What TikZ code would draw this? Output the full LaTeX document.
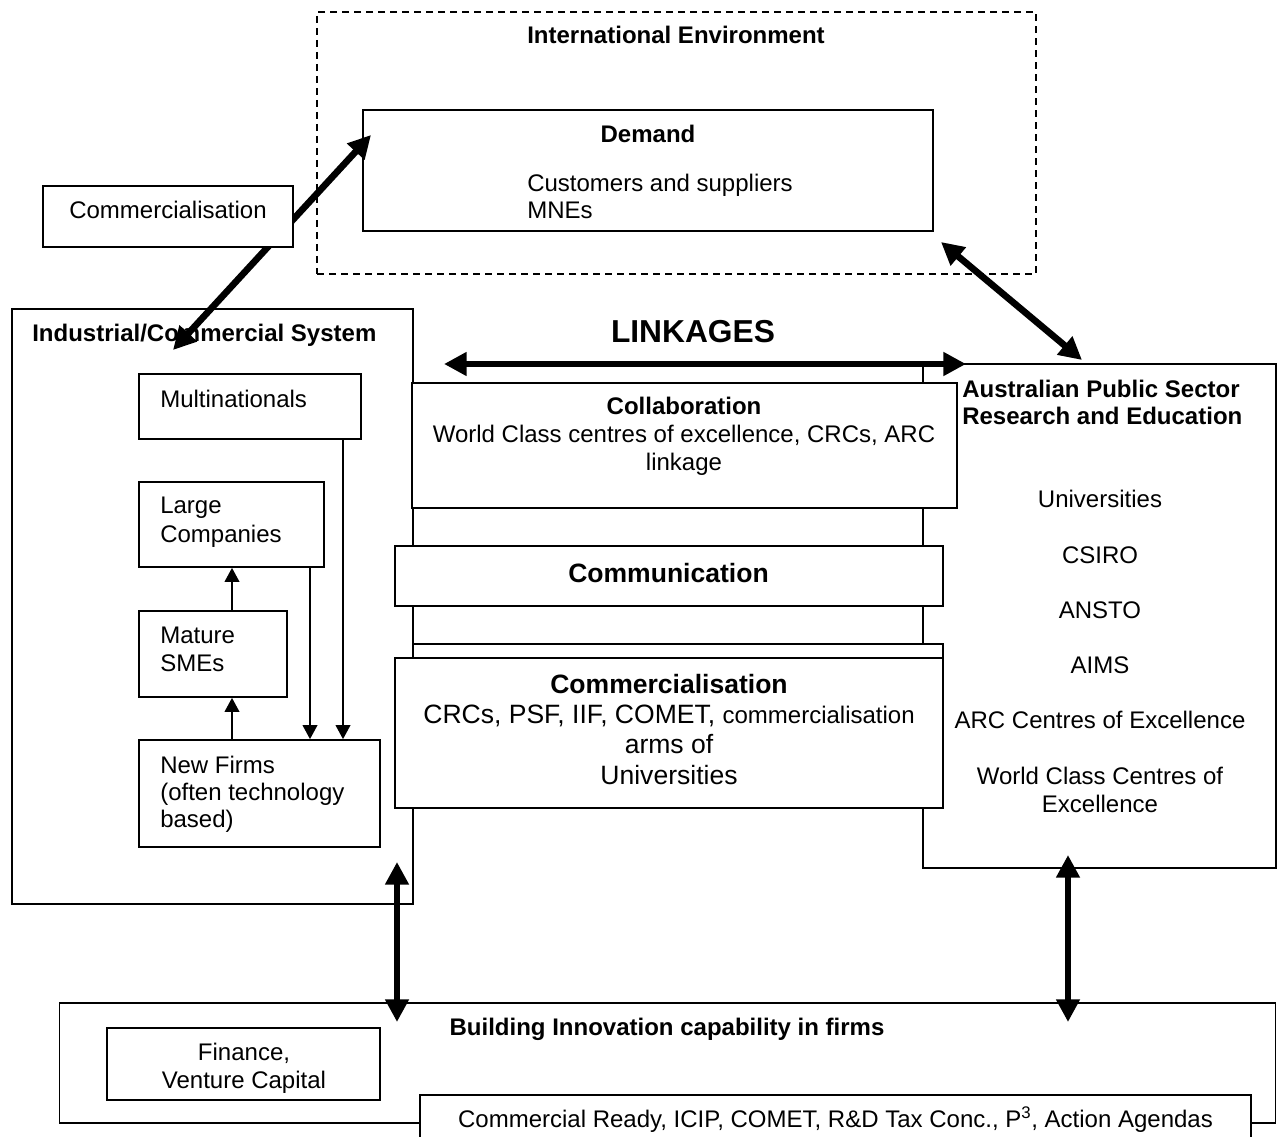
\documentclass[tikz,border=0pt]{standalone}
\usepackage{fontspec}
\setmainfont{Liberation Sans}
\usetikzlibrary{arrows.meta,fit}
\begin{document}
\begin{tikzpicture}[x=0.75pt,y=-0.75pt,
  box/.style={draw, line width=1.3pt, fill=white, inner sep=0pt},
  dbox/.style={draw, line width=1pt, dash pattern=on 5.5pt off 3.5pt, inner sep=0pt},
  txt/.style={inner sep=0pt, font=\fontsize{18}{20.5}\selectfont},
  btxt/.style={inner sep=0pt, font=\fontsize{18}{20.5}\selectfont\bfseries},
  bigtxt/.style={inner sep=0pt, font=\fontsize{19.9}{23}\selectfont},
  bigbtxt/.style={inner sep=0pt, font=\fontsize{19.9}{23}\selectfont\bfseries},
  thickarrow/.style={line width=5pt, {Triangle[length=17pt,width=17pt]}-{Triangle[length=17pt,width=17pt]}},
  thinarrow/.style={line width=1.3pt, -{Triangle[length=10.5pt,width=11pt]}},
]
\useasboundingbox (0,0) rectangle (1278,1137);

% International environment
\node[dbox, fit={(317,12) (1036,274)}] (intl) {};
\node[btxt, anchor=base] (intlt) at (676,44) {International Environment};
\node[box, fit={(363,110) (933,231)}] (demand) {};
\node[btxt, anchor=base] (demandt) at (648,143) {Demand};
\node[txt, anchor=base west] (custt) at (527,192) {Customers and suppliers};
\node[txt, anchor=base west] (mnest) at (527,219) {MNEs};

% Industrial / Commercial system
\node[box, fit={(12,309) (413,904)}] (ind) {};
\node[btxt, anchor=base west] (indt) at (32,342) {Industrial/Commercial System};
\node[box, fit={(139,374) (361,439)}] (mnc) {};
\node[txt, anchor=base west] (mnct) at (160,407) {Multinationals};
\node[box, fit={(139,482) (324,567)}] (lc) {};
\node[txt, anchor=base west] (lct1) at (160,513) {Large};
\node[txt, anchor=base west] (lct2) at (160,542) {Companies};
\node[box, fit={(139,611) (287,697)}] (ms) {};
\node[txt, anchor=base west] (mst1) at (160,643) {Mature};
\node[txt, anchor=base west] (mst2) at (160,671) {SMEs};
\node[box, fit={(139,740) (380,847)}] (nf) {};
\node[txt, anchor=base west] (nft1) at (160,773) {New Firms};
\node[txt, anchor=base west] (nft2) at (160,800) {(often technology};
\node[txt, anchor=base west] (nft3) at (160,827) {based)};

\coordinate (upx) at (232,0);
\coordinate (dx1) at (310,0);
\coordinate (dx2) at (343,0);
\draw[thinarrow] (nf.north -| upx) -- (ms.south -| upx);
\draw[thinarrow] (ms.north -| upx) -- (lc.south -| upx);
\draw[thinarrow] (lc.south -| dx1) -- (nf.north -| dx1);
\draw[thinarrow] (mnc.south -| dx2) -- (nf.north -| dx2);

% Commercialisation arrow (behind the box)
\coordinate (cA) at (173,350);
\coordinate (cB) at (371,135);
\draw[thickarrow] (cA) -- (cB);
\node[box, fit={(43,186) (293,247)}] (comm1) {};
\node[txt, anchor=base] (comm1t) at (168,219) {Commercialisation};

% Australian Public Sector
\node[box, fit={(923,364) (1276,868)}] (aps) {};
\node[btxt, anchor=base west] (apst1) at (962,398) {Australian Public Sector};
\node[btxt, anchor=base west] (apst2) at (962,425) {Research and Education};
\node[txt, anchor=base] (i1) at (1100,507) {Universities};
\node[txt, anchor=base] (i2) at (1100,563) {CSIRO};
\node[txt, anchor=base] (i3) at (1100,618) {ANSTO};
\node[txt, anchor=base] (i4) at (1100,673) {AIMS};
\node[txt, anchor=base] (i5) at (1100,728) {ARC Centres of Excellence};
\node[txt, anchor=base] (i6) at (1100,784) {World Class Centres of};
\node[txt, anchor=base] (i7) at (1100,812) {Excellence};

% Linkages column
\node[box, fit={(412,383) (957,508)}] (collab) {};
\node[btxt, anchor=base] (collabt1) at (684,415) {Collaboration};
\node[txt, anchor=base] (collabt2) at (684,443) {World Class centres of excellence, CRCs, ARC};
\node[txt, anchor=base] (collabt3) at (684,470) {linkage};
\node[box, fit={(395,546) (943,606)}] (commun) {};
\node[bigbtxt, anchor=base] (communt) at (668.5,582) {Communication};
\node[box, fit={(413,644) (943,700)}] (commback) {};
\node[box, fit={(395,658) (943,808)}] (comm2) {};
\node[bigbtxt, anchor=base] (comm2t1) at (669,693) {Commercialisation};
\node[bigtxt, anchor=base] (comm2t2) at (669,723) {CRCs, PSF, IIF, COMET, {\fontsize{18}{20.5}\selectfont commercialisation}};
\node[bigtxt, anchor=base] (comm2t3) at (669,753) {arms of};
\node[bigtxt, anchor=base] (comm2t4) at (669,784) {Universities};

\node[inner sep=0pt, font=\fontsize{23.8}{27}\selectfont\bfseries, anchor=base] (linkt) at (693,343) {LINKAGES};
\coordinate (lA) at (444,364);
\coordinate (lB) at (966,364);
\draw[thickarrow] (lA) -- (lB);

\coordinate (dA) at (941,242);
\coordinate (dB) at (1082,360);
\draw[thickarrow] (dA) -- (dB);

% Building innovation capability
\node[box, fit={(59.5,1003) (1275.5,1123)}] (build) {};
\node[btxt, anchor=base] (buildt) at (667,1035) {Building Innovation capability in firms};
\node[box, fit={(107,1028) (380,1100)}] (fin) {};
\node[txt, anchor=base] (fint1) at (244,1060) {Finance,};
\node[txt, anchor=base] (fint2) at (244,1088) {Venture Capital};
\node[box, fit={(420,1095) (1251,1150)}] (bar) {};
\node[txt, anchor=base] (bart) at (835.5,1127) {Commercial Ready, ICIP, COMET, R\&D Tax Conc., P\textsuperscript{3}, Action Agendas};

\coordinate (vA1) at (397,862);
\coordinate (vA2) at (397,1022);
\coordinate (vB1) at (1068,855);
\coordinate (vB2) at (1068,1022);
\draw[thickarrow] (vA1) -- (vA2);
\draw[thickarrow] (vB1) -- (vB2);
\end{tikzpicture}
\end{document}
